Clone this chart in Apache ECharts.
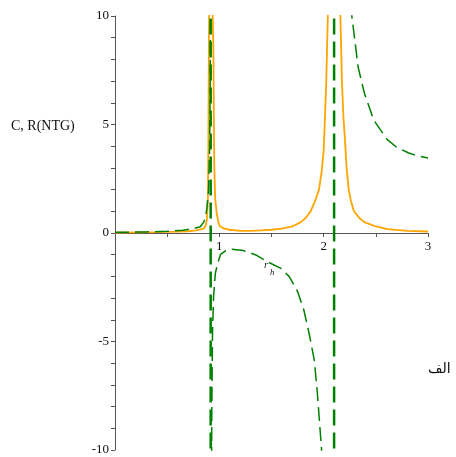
<!DOCTYPE html>
<html>
<head>
<meta charset="utf-8">
<script src="https://cdn.jsdelivr.net/npm/echarts@6/dist/echarts.min.js"></script>
<style>html,body{margin:0;padding:0;background:#fff}#c{width:456px;height:457px}</style>
</head>
<body>
<div id="c"></div>
<script>
// Orange solid curve
const orangeX = [0, 0.2, 0.4, 0.6, 0.7, 0.78, 0.85, 0.87, 0.88, 0.89, 0.895, 0.9, 0.91, 0.92, 0.93, 0.938, 0.943, 0.948, 0.952, 0.96, 0.975, 0.99, 1.007, 1.05, 1.1, 1.2, 1.3, 1.4, 1.5, 1.6, 1.7, 1.78, 1.83, 1.875, 1.92, 1.955, 1.98, 2.0, 2.01, 2.025, 2.04, 2.06, 2.08, 2.1, 2.12, 2.14, 2.16, 2.175, 2.19, 2.2, 2.22, 2.24, 2.26, 2.29, 2.34, 2.39, 2.5, 2.61, 2.8, 3.0];
const orangeY = [0.02, 0.03, 0.04, 0.06, 0.08, 0.12, 0.2, 0.35, 0.6, 1.5, 4, 9, 13, 14, 12, 9.5, 8.5, 5, 3, 1.6, 0.9, 0.5, 0.3, 0.2, 0.15, 0.1, 0.1, 0.12, 0.15, 0.2, 0.3, 0.5, 0.7, 1, 1.5, 2, 2.8, 3.8, 5, 7, 10, 15, 25, 40, 25, 15, 10, 7, 5.3, 4.6, 3, 2, 1.5, 1, 0.7, 0.5, 0.3, 0.18, 0.1, 0.07];

// Green dashed curve, three branches
const green1X = [0, 0.3, 0.5, 0.65, 0.75, 0.817, 0.85, 0.865, 0.88, 0.897, 0.907, 0.912, 0.915, 0.917];
const green1Y = [0.03, 0.05, 0.08, 0.13, 0.2, 0.29, 0.5, 0.7, 1.1, 2, 4, 6.5, 10, 20];
const green2X = [0.919, 0.922, 0.928, 0.935, 0.945, 0.962, 0.984, 1.01, 1.058, 1.12, 1.23, 1.35, 1.46, 1.59, 1.67, 1.75, 1.81, 1.86, 1.91, 1.94, 1.98, 2.02, 2.06, 2.09];
const green2Y = [-40, -15, -8, -4.5, -2.93, -1.85, -1.4, -1.0, -0.82, -0.75, -0.81, -1.01, -1.32, -1.63, -2.01, -2.7, -3.55, -4.62, -5.85, -7.4, -10, -14, -25, -60];
const green3X = [2.11, 2.15, 2.2, 2.27, 2.33, 2.39, 2.48, 2.61, 2.7, 2.81, 2.9, 3.0];
const green3Y = [40, 28, 15, 10, 7.65, 6.45, 5.2, 4.3, 3.95, 3.7, 3.55, 3.46];

// Asymptote connectors (vertical jumps)
const poleX = [0.917, 2.1];
const poleTop = 12;
const poleBottom = -12;

const xTicks = [1, 2, 3];
const yTicks = [-10, -5, 0, 5, 10];

const zip = (xs, ys) => xs.map((x, i) => [x, ys[i]]);

const chart = echarts.init(document.getElementById('c'), null, {renderer: 'canvas'});
const axisColor = '#555';
const labelFont = {fontFamily: 'Liberation Serif', fontSize: 13, color: '#111'};

const greenStyle = {color: '#008000', width: 1.5, type: [14, 6]};
const series = [
  {type: 'line', data: zip(orangeX, orangeY), showSymbol: false, lineStyle: {color: '#FFA500', width: 1.8}, itemStyle: {color: '#FFA500'}, z: 2},
  {type: 'line', data: zip(green1X, green1Y), showSymbol: false, lineStyle: greenStyle, itemStyle: {color: '#008000'}, z: 3},
  {type: 'line', data: zip(green2X, green2Y), showSymbol: false, lineStyle: greenStyle, itemStyle: {color: '#008000'}, z: 3},
  {type: 'line', data: zip(green3X, green3Y), showSymbol: false, lineStyle: greenStyle, itemStyle: {color: '#008000'}, z: 3}
];
poleX.forEach(px => {
  series.push({type: 'line', data: [[px, poleTop], [px, poleBottom]], showSymbol: false,
    lineStyle: {color: '#008000', width: 2.5, type: [16, 7]}, itemStyle: {color: '#008000'}, z: 3});
});

// y=0 sits at the vertical middle of the plot area (range -10..10)
const gridTop = 16, gridBottom = 7, gridHeight = 457 - gridTop - gridBottom;

chart.setOption({
  animation: false,
  backgroundColor: '#fff',
  grid: {left: 115, right: 28, top: gridTop, bottom: gridBottom, containLabel: false, outerBoundsMode: 'none'},
  xAxis: {
    type: 'value', min: 0, max: 3, interval: 0.5, position: 'bottom',
    offset: -gridHeight / 2,
    axisLine: {onZero: false, lineStyle: {color: axisColor, width: 1}},
    axisTick: {length: 4, lineStyle: {color: axisColor}},
    splitLine: {show: false},
    axisLabel: Object.assign({margin: 7, showMaxLabel: true,
      formatter: v => xTicks.includes(v) ? String(v) : ''}, labelFont)
  },
  yAxis: {
    type: 'value', min: -10, max: 10, interval: 1,
    axisLine: {show: true, onZero: false, lineStyle: {color: axisColor, width: 1}},
    axisTick: {show: true, length: 4, lineStyle: {color: axisColor}},
    splitLine: {show: false},
    axisLabel: Object.assign({margin: 6, showMinLabel: true, showMaxLabel: true,
      formatter: v => yTicks.includes(v) ? String(v) : ''}, labelFont)
  },
  series: series,
  graphic: [
    {type: 'text', left: 11, top: 119, style: {text: 'C, R(NTG)', font: '14px "Liberation Serif"', fill: '#111'}},
    {type: 'text', left: 428, top: 362, style: {text: 'الف', font: '14px "DejaVu Sans"', fill: '#111'}},
    {type: 'text', left: 264, top: 260, style: {text: 'r', font: 'italic 11px "Liberation Serif"', fill: '#223'}},
    {type: 'text', left: 270, top: 268, style: {text: 'h', font: 'italic 9px "Liberation Serif"', fill: '#223'}}
  ]
});
</script>
</body>
</html>
